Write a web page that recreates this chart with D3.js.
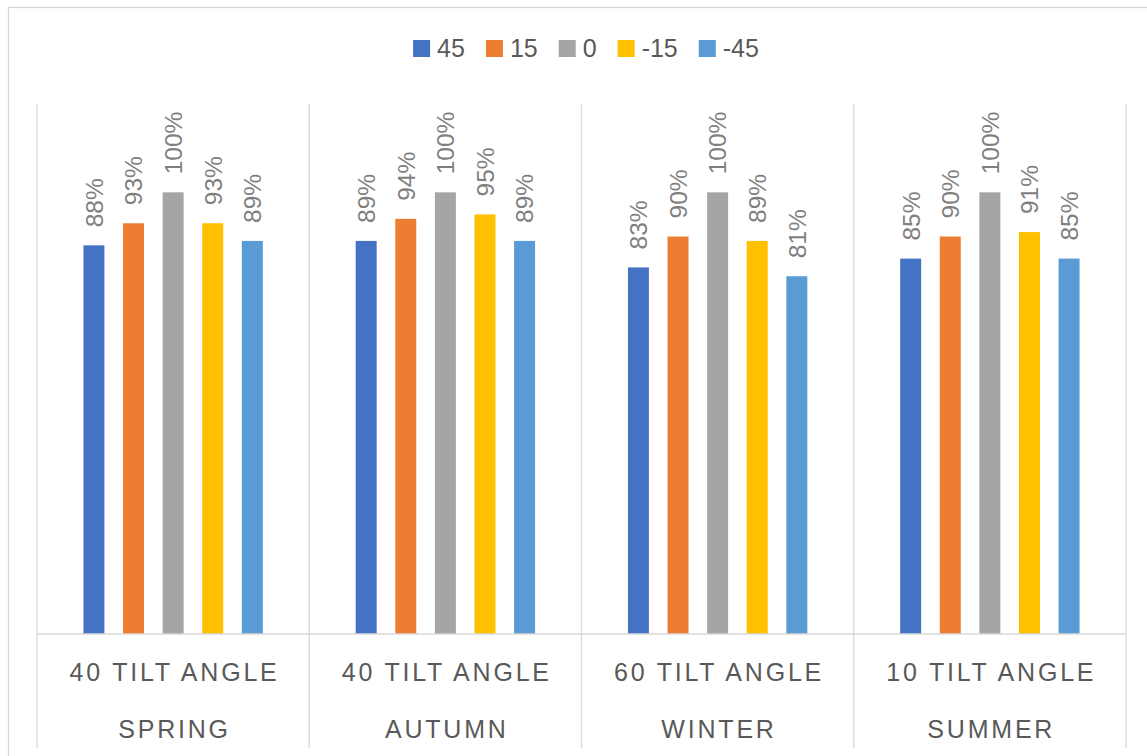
<!DOCTYPE html>
<html>
<head>
<meta charset="utf-8">
<script src="https://cdn.jsdelivr.net/npm/d3@7"></script>
<style>
  html, body { margin: 0; padding: 0; background: #ffffff; }
  svg { display: block; }
</style>
</head>
<body>
<svg id="chart" width="1147" height="756"></svg>
<script>
// Tilt-angle configurations (row 1) and seasons (row 2)
const tiltLabels = ["40 TILT ANGLE", "40 TILT ANGLE", "60 TILT ANGLE", "10 TILT ANGLE"];
const seasons = ["SPRING", "AUTUMN", "WINTER", "SUMMER"];

// Series names (legend) and their relative output per season
const seriesNames = ["45", "15", "0", "-15", "-45"];
const values45 = [0.88, 0.89, 0.83, 0.85];
const values15 = [0.93, 0.94, 0.90, 0.90];
const values0 = [1.00, 1.00, 1.00, 1.00];
const valuesNeg15 = [0.93, 0.95, 0.89, 0.91];
const valuesNeg45 = [0.89, 0.89, 0.81, 0.85];

const seriesColors = ["#4472C4", "#ED7D31", "#A5A5A5", "#FFC000", "#5B9BD5"];

const seriesValues = [values45, values15, values0, valuesNeg15, valuesNeg45];
const series = seriesNames.map((name, i) => ({ name, color: seriesColors[i], values: seriesValues[i] }));

const svg = d3.select("#chart");
const gridColor = "#d9d9d9";
const textFont = "'Liberation Sans', Arial, sans-serif";

// Chart frame
svg.append("rect")
  .attr("x", 8.5).attr("y", 7.5)
  .attr("width", 1170).attr("height", 780)
  .attr("fill", "#ffffff")
  .attr("stroke", gridColor).attr("stroke-width", 1.3);

// Plot geometry
const plot = { left: 37, right: 1126, top: 104, bottom: 634, labelBottom: 748 };

const x0 = d3.scaleBand()
  .domain(d3.range(seasons.length))
  .range([plot.left, plot.right])
  .paddingInner(0).paddingOuter(0);

const x1 = d3.scaleBand()
  .domain(seriesNames)
  .range([0, x0.bandwidth()])
  .paddingInner(0.47)
  .paddingOuter(1.1725);

const y = d3.scaleLinear()
  .domain([0, 1.2])
  .range([plot.bottom, plot.top]);

// Category separators (run through the label area)
const boundaries = d3.range(seasons.length + 1).map(i =>
  i < seasons.length ? x0(i) : x0(seasons.length - 1) + x0.bandwidth());

svg.append("g").selectAll("line")
  .data(boundaries)
  .join("line")
  .attr("x1", d => d).attr("x2", d => d)
  .attr("y1", plot.top).attr("y2", plot.labelBottom)
  .attr("stroke", gridColor).attr("stroke-width", 1.3);

// Bars
const groups = svg.append("g").selectAll("g")
  .data(seasons.map((s, i) => i))
  .join("g")
  .attr("transform", i => `translate(${x0(i)},0)`);

groups.selectAll("rect")
  .data(i => series.map(s => ({ name: s.name, color: s.color, value: s.values[i] })))
  .join("rect")
  .attr("x", d => x1(d.name))
  .attr("width", x1.bandwidth())
  .attr("y", d => y(d.value))
  .attr("height", d => y(0) - y(d.value))
  .attr("fill", d => d.color);

// Rotated value labels above each bar
groups.selectAll("text")
  .data(i => series.map(s => ({ name: s.name, value: s.values[i] })))
  .join("text")
  .attr("transform", d => `translate(${x1(d.name) + x1.bandwidth() / 2},${y(d.value) - 18}) rotate(-90)`)
  .attr("dy", "0.36em")
  .attr("text-anchor", "start")
  .attr("font-family", textFont)
  .attr("font-size", 24.5)
  .attr("fill", "#7f7f7f")
  .text(d => d3.format(".0%")(d.value));

// Baseline
svg.append("line")
  .attr("x1", plot.left).attr("x2", plot.right)
  .attr("y1", y(0)).attr("y2", y(0))
  .attr("stroke", gridColor).attr("stroke-width", 1.3);

// Two-row category axis labels
const spacing = 2.8;
const axisLabels = svg.append("g")
  .attr("font-family", textFont)
  .attr("font-size", 25)
  .attr("fill", "#595959")
  .attr("letter-spacing", spacing)
  .attr("text-anchor", "middle");

axisLabels.selectAll("text.tilt")
  .data(tiltLabels)
  .join("text")
  .attr("class", "tilt")
  .attr("x", (d, i) => x0(i) + x0.bandwidth() / 2 + spacing / 2)
  .attr("y", 681)
  .text(d => d);

axisLabels.selectAll("text.season")
  .data(seasons)
  .join("text")
  .attr("class", "season")
  .attr("x", (d, i) => x0(i) + x0.bandwidth() / 2 + spacing / 2)
  .attr("y", 738)
  .text(d => d);

// Legend, centred over the chart
const legend = svg.append("g");
const sq = 17, sqGap = 7, itemGap = 21;
let cursor = 0;
series.forEach(s => {
  const item = legend.append("g").attr("transform", `translate(${cursor},0)`);
  item.append("rect")
    .attr("x", 0).attr("y", 40)
    .attr("width", sq).attr("height", sq)
    .attr("fill", s.color);
  const t = item.append("text")
    .attr("x", sq + sqGap).attr("y", 57)
    .attr("font-family", textFont)
    .attr("font-size", 25)
    .attr("fill", "#595959")
    .text(s.name);
  cursor += sq + sqGap + t.node().getComputedTextLength() + itemGap;
});
const legendWidth = cursor - itemGap;
legend.attr("transform", `translate(${586 - legendWidth / 2},0)`);
</script>
</body>
</html>
